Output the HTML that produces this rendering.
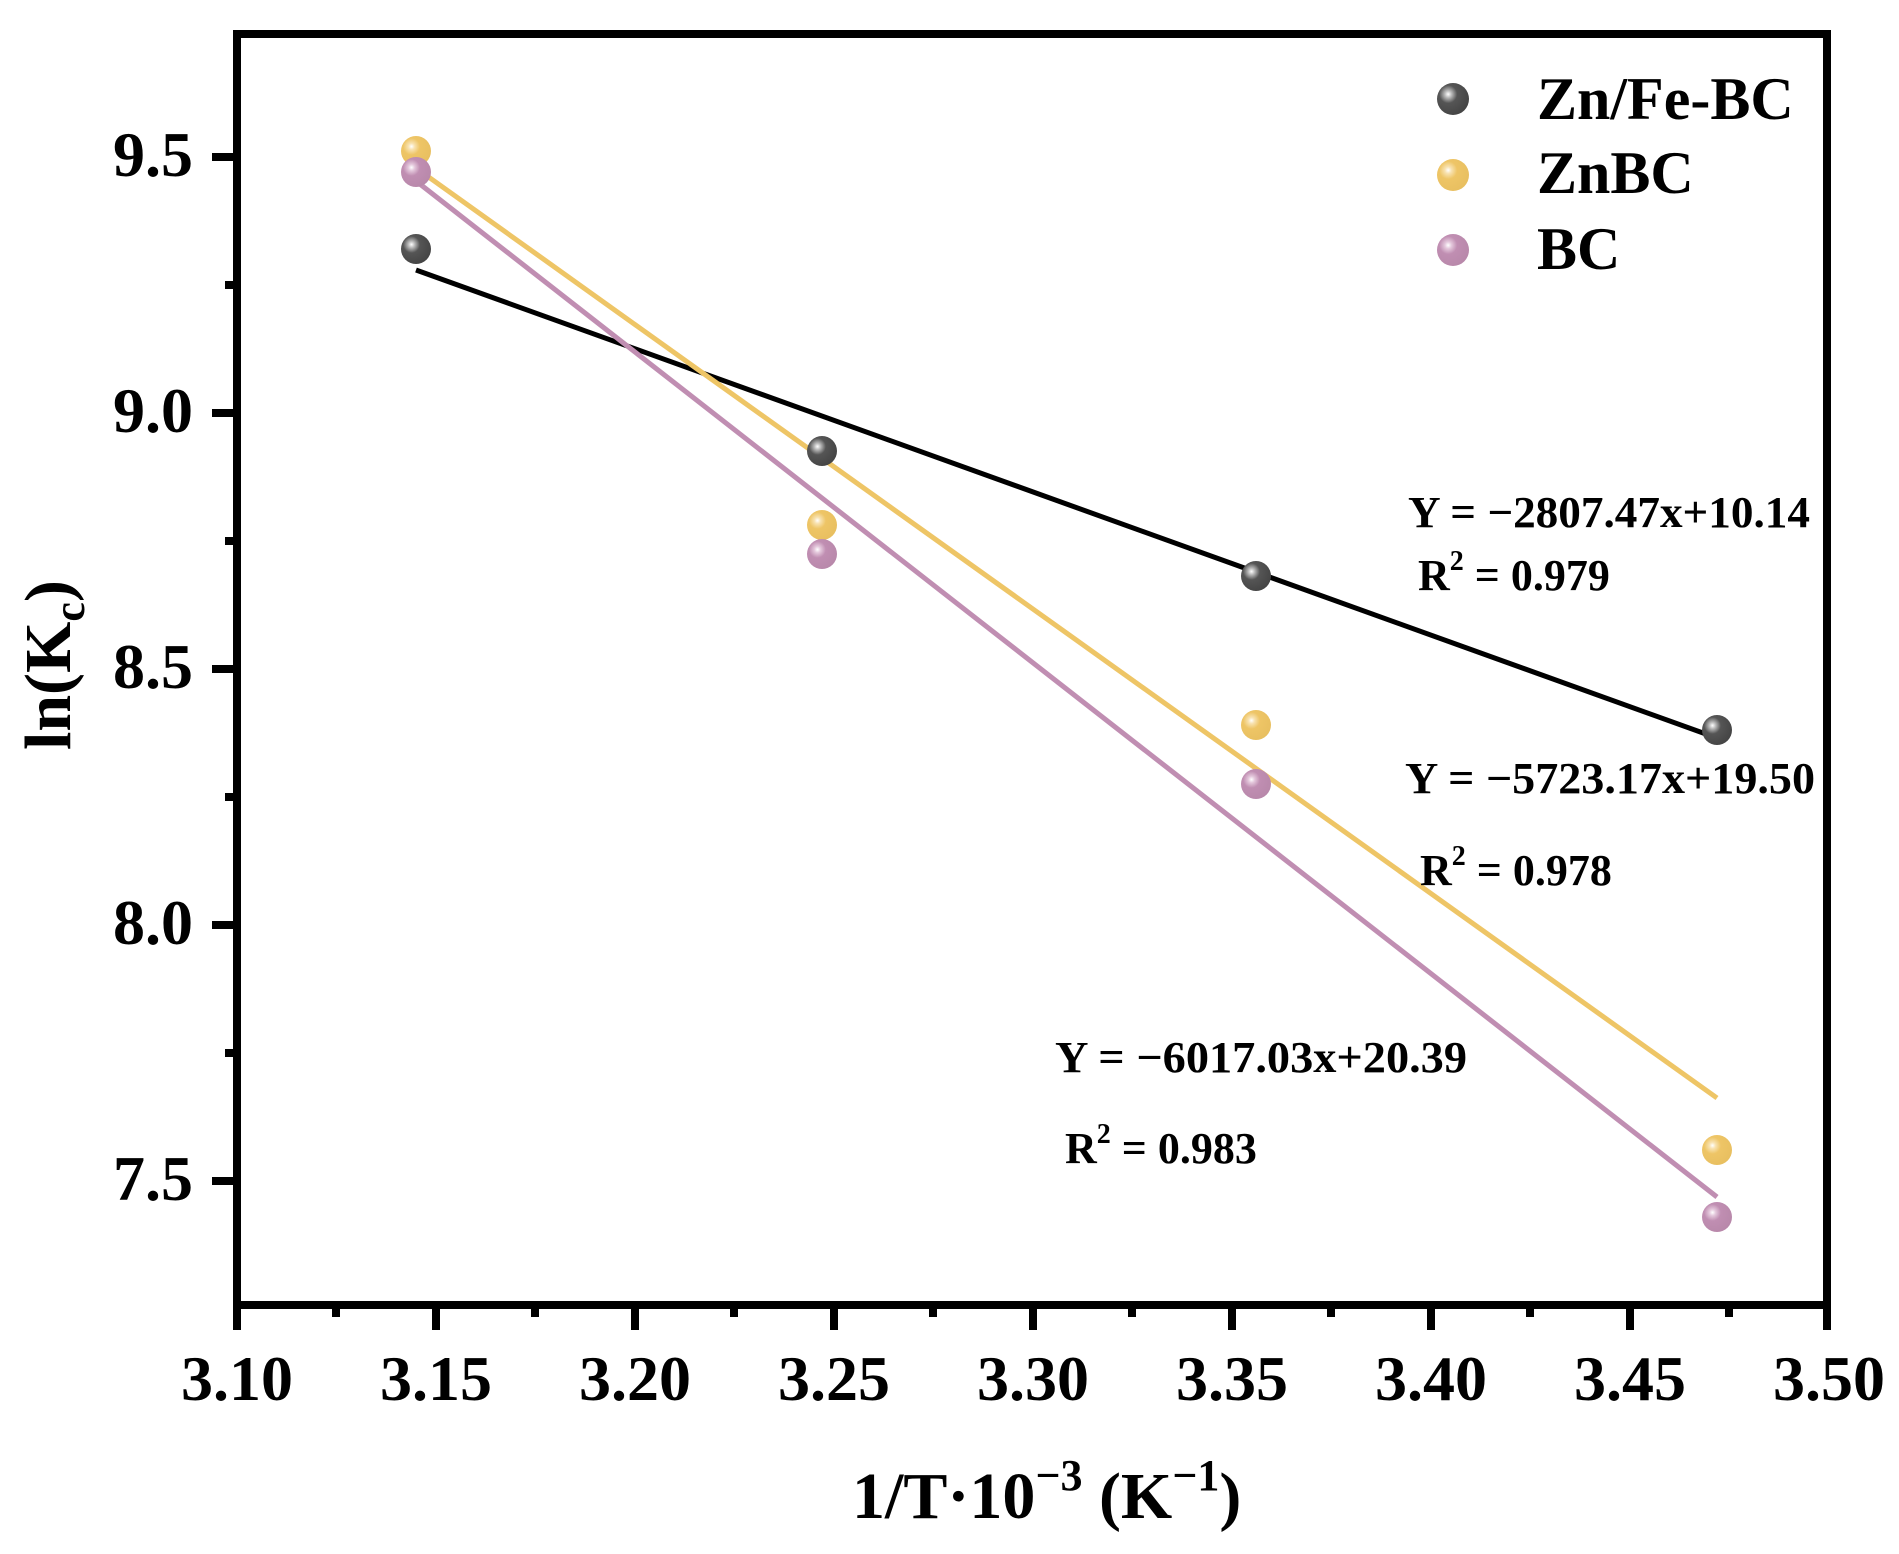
<!DOCTYPE html>
<html><head><meta charset="utf-8"><style>body{margin:0;background:#fff}svg{display:block}</style></head>
<body>
<svg width="1899" height="1554" viewBox="0 0 1899 1554" xmlns="http://www.w3.org/2000/svg" font-family="Liberation Serif, serif" font-weight="bold">
<defs>
<radialGradient id="gk" cx="0.35" cy="0.35" r="0.7"><stop offset="0" stop-color="#fff"/><stop offset="0.15" stop-color="#bbb"/><stop offset="0.4" stop-color="#555"/><stop offset="1" stop-color="#444"/></radialGradient>
<radialGradient id="gy" cx="0.35" cy="0.35" r="0.7"><stop offset="0" stop-color="#fff"/><stop offset="0.15" stop-color="#f8e2b0"/><stop offset="0.4" stop-color="#eec566"/><stop offset="1" stop-color="#e8bf60"/></radialGradient>
<radialGradient id="gp" cx="0.35" cy="0.35" r="0.7"><stop offset="0" stop-color="#fff"/><stop offset="0.15" stop-color="#e4c8dc"/><stop offset="0.4" stop-color="#c08eb2"/><stop offset="1" stop-color="#b888aa"/></radialGradient>
</defs>
<rect x="237" y="34" width="1590" height="1271" fill="none" stroke="#000" stroke-width="8"/>
<g stroke="#000" stroke-width="8">
<line x1="237" y1="1305" x2="237" y2="1330"/><line x1="436" y1="1305" x2="436" y2="1330"/><line x1="635" y1="1305" x2="635" y2="1330"/><line x1="834" y1="1305" x2="834" y2="1330"/><line x1="1033" y1="1305" x2="1033" y2="1330"/><line x1="1232" y1="1305" x2="1232" y2="1330"/><line x1="1431" y1="1305" x2="1431" y2="1330"/><line x1="1630" y1="1305" x2="1630" y2="1330"/><line x1="1827" y1="1305" x2="1827" y2="1330"/>
<line x1="336" y1="1305" x2="336" y2="1317"/><line x1="535" y1="1305" x2="535" y2="1317"/><line x1="734" y1="1305" x2="734" y2="1317"/><line x1="933" y1="1305" x2="933" y2="1317"/><line x1="1132" y1="1305" x2="1132" y2="1317"/><line x1="1331" y1="1305" x2="1331" y2="1317"/><line x1="1530" y1="1305" x2="1530" y2="1317"/><line x1="1729" y1="1305" x2="1729" y2="1317"/>
<line x1="212" y1="157" x2="237" y2="157"/><line x1="212" y1="413" x2="237" y2="413"/><line x1="212" y1="669" x2="237" y2="669"/><line x1="212" y1="925" x2="237" y2="925"/><line x1="212" y1="1181" x2="237" y2="1181"/>
<line x1="225" y1="285" x2="237" y2="285"/><line x1="225" y1="541" x2="237" y2="541"/><line x1="225" y1="797" x2="237" y2="797"/><line x1="225" y1="1053" x2="237" y2="1053"/>
</g>
<g font-size="64" text-anchor="middle">
<text x="237" y="1400">3.10</text><text x="436" y="1400">3.15</text><text x="635" y="1400">3.20</text><text x="834" y="1400">3.25</text><text x="1033" y="1400">3.30</text><text x="1232" y="1400">3.35</text><text x="1431" y="1400">3.40</text><text x="1630" y="1400">3.45</text><text x="1829" y="1400">3.50</text>
</g>
<g font-size="64" text-anchor="end">
<text x="193" y="176">9.5</text><text x="193" y="432">9.0</text><text x="193" y="688">8.5</text><text x="193" y="944">8.0</text><text x="193" y="1200">7.5</text>
</g>
<text x="852" y="1518" font-size="66">1/T·10<tspan font-size="44" dy="-28">−3</tspan><tspan dy="28"> (K</tspan><tspan font-size="44" dy="-28">−1</tspan><tspan dy="28">)</tspan></text>
<text transform="translate(70,750) rotate(-90)" font-size="66">ln(K<tspan font-size="44" dy="14">c</tspan><tspan dy="-14">)</tspan></text>
<line x1="416" y1="270" x2="1717" y2="738" stroke="#000" stroke-width="5"/>
<line x1="416" y1="168" x2="1717" y2="1098" stroke="#eec566" stroke-width="5"/>
<line x1="416" y1="181" x2="1717" y2="1197" stroke="#c08eb2" stroke-width="5"/>
<g>
<circle cx="416" cy="249" r="15" fill="url(#gk)"/><circle cx="822" cy="451" r="15" fill="url(#gk)"/><circle cx="1256" cy="576" r="15" fill="url(#gk)"/><circle cx="1717" cy="730" r="15" fill="url(#gk)"/>
<circle cx="416" cy="151" r="15" fill="url(#gy)"/><circle cx="822" cy="525" r="15" fill="url(#gy)"/><circle cx="1256" cy="725" r="15" fill="url(#gy)"/><circle cx="1717" cy="1150" r="15" fill="url(#gy)"/>
<circle cx="416" cy="172" r="15" fill="url(#gp)"/><circle cx="822" cy="554" r="15" fill="url(#gp)"/><circle cx="1256" cy="784" r="15" fill="url(#gp)"/><circle cx="1717" cy="1217" r="15" fill="url(#gp)"/>
</g>
<circle cx="1453" cy="99" r="16" fill="url(#gk)"/><circle cx="1453" cy="175" r="16" fill="url(#gy)"/><circle cx="1453" cy="250" r="16" fill="url(#gp)"/>
<g font-size="60"><text x="1537" y="119">Zn/Fe-BC</text><text x="1537" y="193">ZnBC</text><text x="1537" y="269">BC</text></g>
<g font-size="44">
<text x="1408" y="527" textLength="402" lengthAdjust="spacingAndGlyphs">Y = −2807.47x+10.14</text>
<text x="1418" y="590">R<tspan font-size="28" dy="-20">2</tspan><tspan dy="20"> = 0.979</tspan></text>
<text x="1405" y="793" textLength="410" lengthAdjust="spacingAndGlyphs">Y = −5723.17x+19.50</text>
<text x="1420" y="885">R<tspan font-size="28" dy="-20">2</tspan><tspan dy="20"> = 0.978</tspan></text>
<text x="1055" y="1072" textLength="412" lengthAdjust="spacingAndGlyphs">Y = −6017.03x+20.39</text>
<text x="1065" y="1163">R<tspan font-size="28" dy="-20">2</tspan><tspan dy="20"> = 0.983</tspan></text>
</g>
</svg>
</body></html>
